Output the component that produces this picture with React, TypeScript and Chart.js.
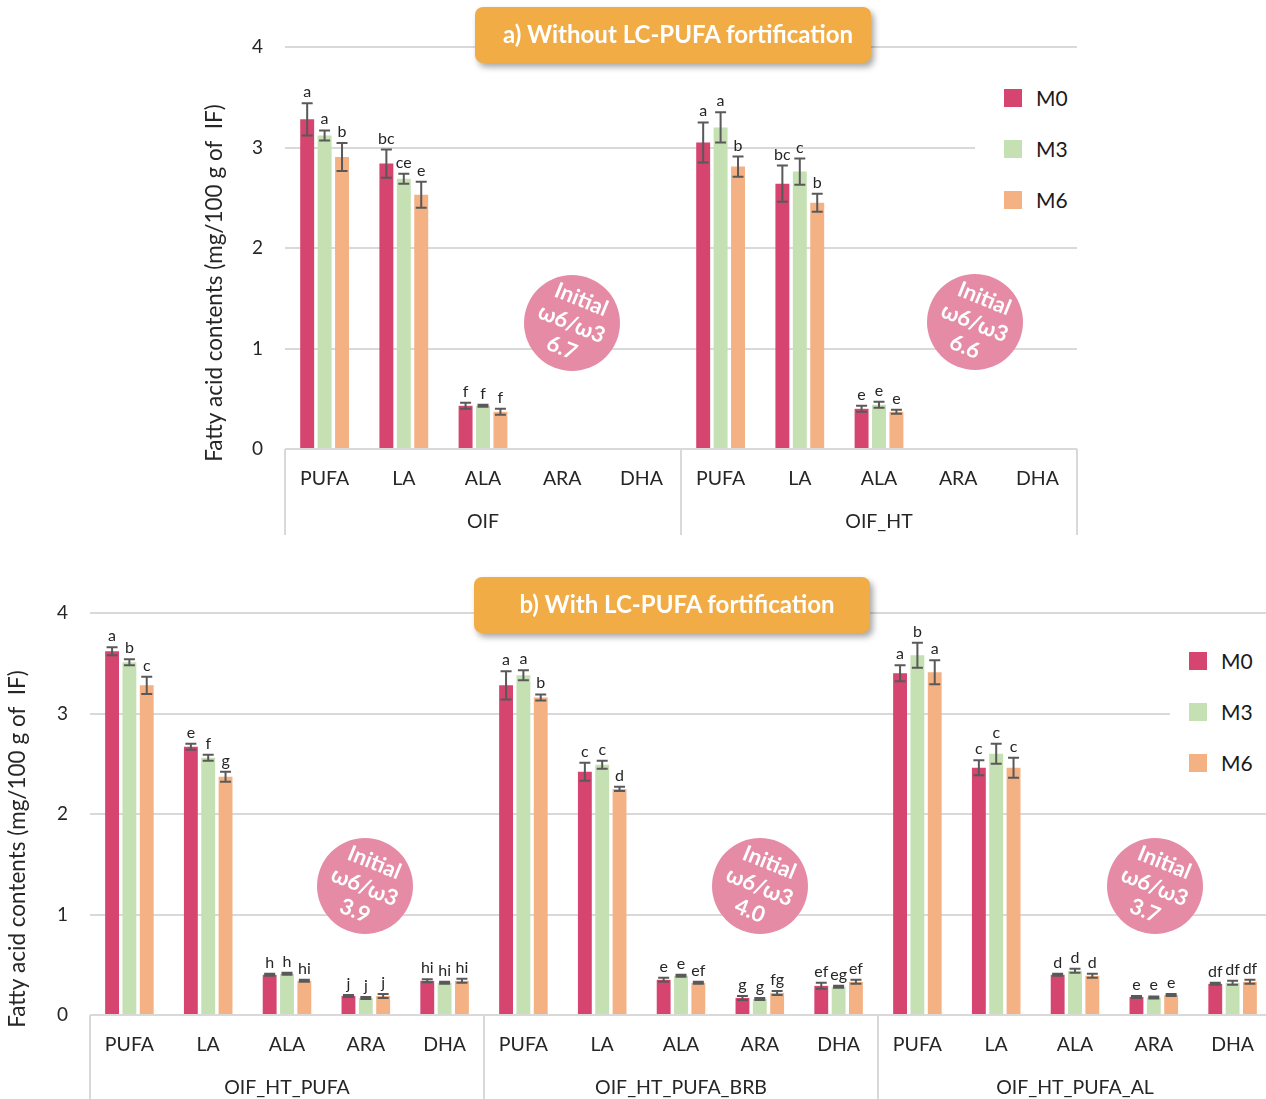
import React, { useEffect, useRef } from 'react';
import { Chart, registerables } from 'chart.js';

Chart.register(...registerables);
Chart.defaults.font.family = 'Lato, "Noto Sans", sans-serif';

// ---------- data ----------
const seriesNames = ['M0', 'M3', 'M6'];
const seriesColors = ['#d6456f', '#c5e0b3', '#f4b183'];
const acidLabels = ['PUFA', 'LA', 'ALA', 'ARA', 'DHA'];
const yTickValues = [0, 1, 2, 3, 4];
const yTitle = 'Fatty acid contents (mg/100 g of  IF)';

// a) Without LC-PUFA fortification
const topTitle = 'a) Without LC-PUFA fortification';
const topGroups = ['OIF', 'OIF_HT'];
const topM0 = [3.28, 2.84, 0.43, null, null, 3.05, 2.64, 0.4, null, null];
const topM3 = [3.12, 2.69, 0.43, null, null, 3.2, 2.76, 0.44, null, null];
const topM6 = [2.905, 2.53, 0.37, null, null, 2.81, 2.45, 0.37, null, null];
const topErrM0 = [0.16, 0.14, 0.03, null, null, 0.2, 0.18, 0.03, null, null];
const topErrM3 = [0.05, 0.05, 0.01, null, null, 0.15, 0.13, 0.03, null, null];
const topErrM6 = [0.14, 0.13, 0.03, null, null, 0.1, 0.09, 0.02, null, null];
const topLetM0 = ['a', 'bc', 'f', '', '', 'a', 'bc', 'e', '', ''];
const topLetM3 = ['a', 'ce', 'f', '', '', 'a', 'c', 'e', '', ''];
const topLetM6 = ['b', 'e', 'f', '', '', 'b', 'b', 'e', '', ''];
const topRatios = ['6.7', '6.6'];

// b) With LC-PUFA fortification
const bottomTitle = 'b) With LC-PUFA fortification';
const bottomGroups = ['OIF_HT_PUFA', 'OIF_HT_PUFA_BRB', 'OIF_HT_PUFA_AL'];
const botM0 = [3.62, 2.67, 0.4, 0.19, 0.34, 3.28, 2.42, 0.35, 0.17, 0.29, 3.4, 2.46, 0.4, 0.18, 0.31];
const botM3 = [3.51, 2.56, 0.41, 0.17, 0.32, 3.38, 2.49, 0.39, 0.16, 0.28, 3.58, 2.6, 0.44, 0.175, 0.32];
const botM6 = [3.28, 2.37, 0.34, 0.19, 0.34, 3.16, 2.25, 0.32, 0.22, 0.33, 3.41, 2.46, 0.39, 0.2, 0.33];
const botErrM0 = [0.04, 0.03, 0.01, 0.01, 0.015, 0.14, 0.09, 0.02, 0.02, 0.03, 0.08, 0.075, 0.01, 0.01, 0.01];
const botErrM3 = [0.03, 0.03, 0.01, 0.01, 0.01, 0.05, 0.04, 0.01, 0.01, 0.01, 0.125, 0.1, 0.02, 0.01, 0.02];
const botErrM6 = [0.085, 0.05, 0.01, 0.02, 0.02, 0.03, 0.02, 0.01, 0.02, 0.02, 0.12, 0.1, 0.02, 0.01, 0.02];
const botLetM0 = ['a', 'e', 'h', 'j', 'hi', 'a', 'c', 'e', 'g', 'ef', 'a', 'c', 'd', 'e', 'df'];
const botLetM3 = ['b', 'f', 'h', 'j', 'hi', 'a', 'c', 'e', 'g', 'eg', 'b', 'c', 'd', 'e', 'df'];
const botLetM6 = ['c', 'g', 'hi', 'j', 'hi', 'b', 'd', 'ef', 'fg', 'ef', 'a', 'c', 'd', 'e', 'df'];
const bottomRatios = ['3.9', '4.0', '3.7'];

const TEXT = '#262626';
const GRID = '#d9d9d9';
const FONT = 'Lato, "Noto Sans", sans-serif';

type PanelProps = {
  top: number;
  width: number;
  height: number;
  groups: string[];
  values: (number | null)[][];
  errors: (number | null)[][];
  letters: string[][];
  padding: { left: number; right: number; top: number; bottom: number };
  yAxisWidth: number;
  x2Height: number;
  titleX: number;
};

function Panel(p: PanelProps) {
  const ref = useRef<HTMLCanvasElement>(null);
  useEffect(() => {
    if (!ref.current) return;
    const labels = p.groups.flatMap(() => acidLabels);
    const errPlugin = {
      id: 'errbars',
      afterDatasetsDraw(chart: any) {
        const ctx = chart.ctx;
        const ys = chart.scales.y;
        ctx.save();
        chart.data.datasets.forEach((ds: any, i: number) => {
          const meta = chart.getDatasetMeta(i);
          ds.data.forEach((v: number | null, j: number) => {
            if (v == null) return;
            const bar = meta.data[j];
            const e = p.errors[i][j] ?? 0;
            const x = bar.x;
            const yt = ys.getPixelForValue(v + e);
            const yb = ys.getPixelForValue(v - e);
            ctx.strokeStyle = '#595959';
            ctx.lineWidth = 2;
            ctx.beginPath();
            ctx.moveTo(x, yt);
            ctx.lineTo(x, yb);
            ctx.moveTo(x - 5.5, yt);
            ctx.lineTo(x + 5.5, yt);
            ctx.moveTo(x - 5.5, yb);
            ctx.lineTo(x + 5.5, yb);
            ctx.stroke();
            const t = p.letters[i][j];
            if (t) {
              ctx.fillStyle = TEXT;
              ctx.font = '16px ' + FONT;
              ctx.textAlign = 'center';
              ctx.textBaseline = 'alphabetic';
              ctx.fillText(t, x, yt - 6);
            }
          });
        });
        ctx.restore();
      },
    };
    const sepPlugin = {
      id: 'separators',
      afterDraw(chart: any) {
        const ctx = chart.ctx;
        const xs = chart.scales.x;
        const area = chart.chartArea;
        ctx.save();
        ctx.strokeStyle = GRID;
        ctx.lineWidth = 2;
        for (let g = 0; g <= p.groups.length; g++) {
          const px = Math.round(xs.getPixelForValue(g * acidLabels.length - 0.5));
          ctx.beginPath();
          ctx.moveTo(px, area.bottom);
          ctx.lineTo(px, area.bottom + 86);
          ctx.stroke();
        }
        // y axis title
        ctx.translate(p.titleX, (area.top + area.bottom) / 2 + 35);
        ctx.rotate(-Math.PI / 2);
        ctx.fillStyle = TEXT;
        ctx.font = '22.5px ' + FONT;
        ctx.textAlign = 'center';
        ctx.textBaseline = 'middle';
        ctx.fillText(yTitle, 0, 0);
        ctx.restore();
      },
    };
    const chart = new Chart(ref.current, {
      type: 'bar',
      data: {
        labels,
        datasets: seriesNames.map((n, i) => ({
          label: n,
          data: p.values[i],
          backgroundColor: seriesColors[i],
          barPercentage: 0.8,
          categoryPercentage: 0.66,
          xAxisID: 'x',
          yAxisID: 'y',
        })),
      },
      options: {
        animation: false,
        responsive: false,
        layout: { padding: p.padding },
        plugins: {
          legend: { display: false },
          tooltip: { enabled: false },
          title: { display: false },
        },
        scales: {
          x: {
            type: 'category',
            position: 'bottom',
            weight: 0,
            grid: { display: false },
            border: { display: false },
            ticks: { font: { size: 19.5 }, color: TEXT, padding: 10, autoSkip: false, maxRotation: 0 },
            afterFit: (s: any) => {
              s.height = 50;
            },
          },
          x2: {
            type: 'category',
            position: 'bottom',
            weight: 1,
            labels: p.groups,
            offset: true,
            grid: { display: false },
            border: { display: false },
            ticks: { font: { size: 19.5 }, color: TEXT, padding: 3, autoSkip: false, maxRotation: 0 },
            afterFit: (s: any) => {
              s.height = p.x2Height;
            },
          },
          y: {
            min: 0,
            max: 4,
            afterBuildTicks: (s: any) => {
              s.ticks = yTickValues.map((v) => ({ value: v }));
            },
            grid: { color: GRID, lineWidth: 2, drawTicks: false },
            border: { display: false },
            ticks: { font: { size: 19 }, color: TEXT, padding: 22 },
            title: { display: false },
            afterFit: (s: any) => {
              s.width = p.yAxisWidth;
            },
          },
        },
      } as any,
      plugins: [errPlugin, sepPlugin],
    });
    return () => chart.destroy();
  }, []);
  return (
    <canvas
      ref={ref}
      width={p.width}
      height={p.height}
      style={{ position: 'absolute', left: 0, top: p.top, width: p.width, height: p.height }}
    />
  );
}

function TitleBox({ left, top, text }: { left: number; top: number; text: string }) {
  return (
    <div
      style={{
        position: 'absolute',
        left,
        top,
        width: 396,
        height: 56,
        background: '#f2ac45',
        borderRadius: 8,
        boxShadow: '3px 4px 6px rgba(0,0,0,0.35)',
        color: '#fff',
        fontWeight: 700,
        fontSize: 24,
        lineHeight: '54px',
        textAlign: 'center',
        paddingLeft: 10,
        boxSizing: 'border-box',
        whiteSpace: 'nowrap',
      }}
    >
      {text}
    </div>
  );
}

function Circle({ cx, cy, ratio }: { cx: number; cy: number; ratio: string }) {
  const r = 48;
  return (
    <div
      style={{
        position: 'absolute',
        left: cx - r,
        top: cy - r,
        width: 2 * r,
        height: 2 * r,
        borderRadius: '50%',
        background: '#e58ba6',
        display: 'flex',
        alignItems: 'center',
        justifyContent: 'center',
      }}
    >
      <div
        style={{
          transform: 'rotate(22deg)',
          color: '#fff',
          fontWeight: 700,
          fontSize: 22,
          lineHeight: '26px',
          textAlign: 'center',
          whiteSpace: 'nowrap',
        }}
      >
        Initial
        <br />
        ω6/ω3
        <br />
        {ratio}
      </div>
    </div>
  );
}

function Legend({ left, top, boxW, boxH, sqX, firstY }: { left: number; top: number; boxW: number; boxH: number; sqX: number; firstY: number }) {
  return (
    <div style={{ position: 'absolute', left, top, width: boxW, height: boxH, background: '#fff' }}>
      {seriesNames.map((n, i) => (
        <div key={n}>
          <div
            style={{
              position: 'absolute',
              left: sqX,
              top: firstY + i * 51 - 9,
              width: 18,
              height: 18,
              background: seriesColors[i],
            }}
          />
          <div
            style={{
              position: 'absolute',
              left: sqX + 32,
              top: firstY + i * 51 - 13,
              fontSize: 21,
              lineHeight: '26px',
              color: '#1a1a1a',
            }}
          >
            {n}
          </div>
        </div>
      ))}
    </div>
  );
}

export default function App() {
  return (
    <div
      style={{
        position: 'absolute',
        left: 0,
        top: 0,
        width: 1266,
        height: 1099,
        overflow: 'hidden',
        background: '#fff',
        fontFamily: FONT,
      }}
    >
      <Panel
        top={0}
        width={1266}
        height={545}
        groups={topGroups}
        values={[topM0, topM3, topM6]}
        errors={[topErrM0, topErrM3, topErrM6]}
        letters={[topLetM0, topLetM3, topLetM6]}
        padding={{ left: 203, right: 189, top: 47, bottom: 0 }}
        yAxisWidth={82}
        x2Height={46}
        titleX={215}
      />
      <Panel
        top={545}
        width={1280}
        height={554}
        groups={bottomGroups}
        values={[botM0, botM3, botM6]}
        errors={[botErrM0, botErrM3, botErrM6]}
        letters={[botLetM0, botLetM3, botLetM6]}
        padding={{ left: 6, right: 8, top: 68, bottom: 0 }}
        yAxisWidth={84}
        x2Height={34}
        titleX={18}
      />
      <TitleBox left={475} top={7} text={topTitle} />
      <TitleBox left={474} top={577} text={bottomTitle} />
      <Circle cx={572} cy={323} ratio={topRatios[0]} />
      <Circle cx={975} cy={322} ratio={topRatios[1]} />
      <Circle cx={365} cy={886} ratio={bottomRatios[0]} />
      <Circle cx={760} cy={886} ratio={bottomRatios[1]} />
      <Circle cx={1155} cy={886} ratio={bottomRatios[2]} />
      <Legend left={975} top={72} boxW={110} boxH={155} sqX={29} firstY={26} />
      <Legend left={1170} top={640} boxW={100} boxH={150} sqX={19} firstY={21} />
    </div>
  );
}
